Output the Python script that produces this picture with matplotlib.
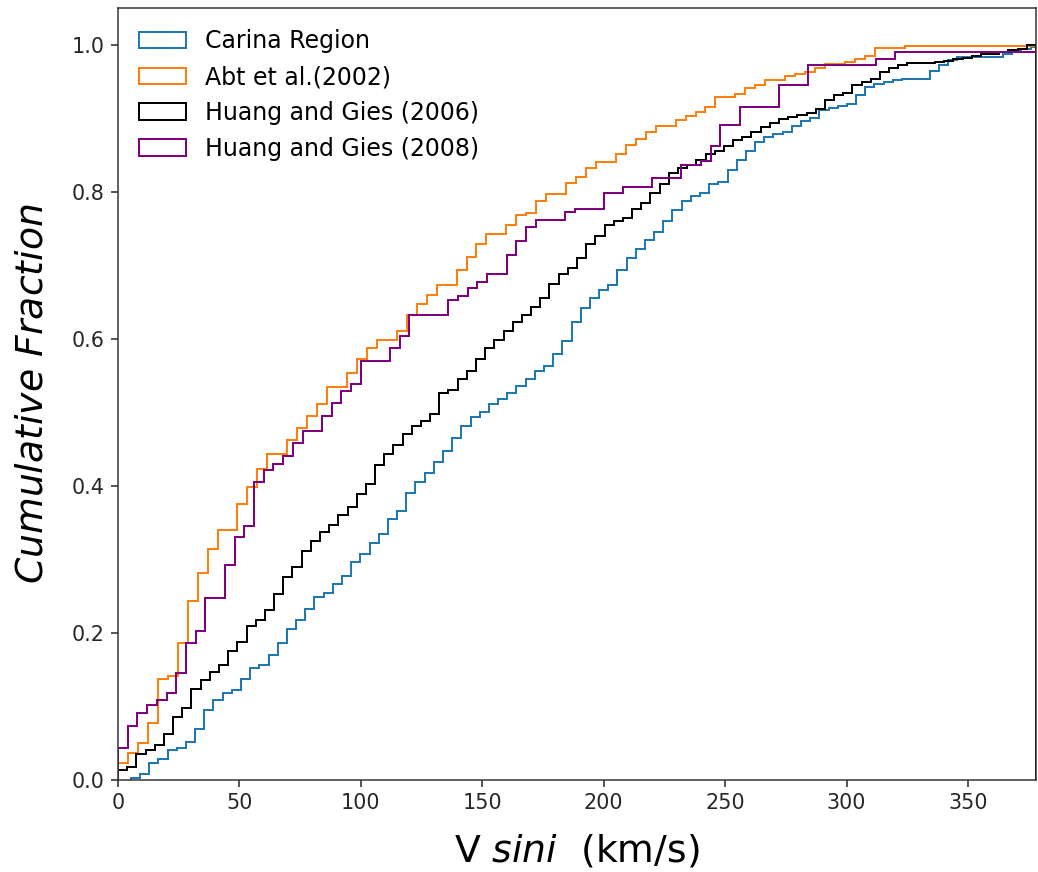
import numpy as np
import matplotlib
matplotlib.use("Agg")
import matplotlib.pyplot as plt

# ---------------- data (cumulative fraction per histogram bin) ----------------
labels = ["Carina Region", "Abt et al.(2002)", "Huang and Gies (2006)", "Huang and Gies (2008)"]
colors = ["#1f77b4", "#ff7f0e", "black", "purple"]

# bin start (km/s) and bin width (km/s) of each histogram (100 bins each)
bin_start = [5.3, 0.0, 0.0, 0.0]
bin_width = [3.78, 4.10, 3.78, 4.00]

carina = [
    0.003, 0.008, 0.023, 0.029, 0.041, 0.043, 0.052, 0.070, 0.095, 0.109,
    0.118, 0.122, 0.138, 0.152, 0.156, 0.170, 0.186, 0.205, 0.217, 0.233,
    0.249, 0.255, 0.267, 0.278, 0.296, 0.307, 0.322, 0.335, 0.355, 0.366,
    0.391, 0.405, 0.418, 0.432, 0.448, 0.465, 0.481, 0.494, 0.501, 0.511,
    0.518, 0.527, 0.536, 0.545, 0.556, 0.563, 0.579, 0.597, 0.623, 0.642,
    0.656, 0.666, 0.673, 0.693, 0.710, 0.722, 0.735, 0.746, 0.760, 0.775,
    0.787, 0.794, 0.798, 0.810, 0.814, 0.830, 0.843, 0.855, 0.868, 0.875,
    0.879, 0.882, 0.889, 0.896, 0.900, 0.911, 0.914, 0.917, 0.920, 0.932,
    0.943, 0.946, 0.950, 0.952, 0.954, 0.954, 0.954, 0.964, 0.972, 0.979,
    0.984, 0.984, 0.984, 0.984, 0.984, 0.988, 0.991, 0.994, 0.997, 1.000,
]

abt2002 = [
    0.023, 0.037, 0.050, 0.077, 0.138, 0.141, 0.186, 0.243, 0.282, 0.314,
    0.340, 0.340, 0.376, 0.399, 0.423, 0.443, 0.443, 0.463, 0.479, 0.495,
    0.511, 0.534, 0.534, 0.553, 0.572, 0.588, 0.598, 0.598, 0.611, 0.633,
    0.647, 0.660, 0.673, 0.673, 0.694, 0.711, 0.729, 0.743, 0.743, 0.755,
    0.769, 0.771, 0.787, 0.797, 0.797, 0.812, 0.820, 0.832, 0.841, 0.841,
    0.852, 0.863, 0.872, 0.881, 0.890, 0.890, 0.898, 0.903, 0.909, 0.916,
    0.929, 0.929, 0.933, 0.941, 0.945, 0.952, 0.952, 0.957, 0.960, 0.963,
    0.969, 0.974, 0.974, 0.977, 0.981, 0.985, 0.995, 0.995, 0.995, 0.998,
    0.998, 0.998, 0.998, 0.998, 0.998, 0.998, 0.998, 0.998, 0.998, 0.998,
    0.998, 0.998, 0.998, 0.998, 0.998, 0.998, 0.998, 0.998, 0.998, 1.000,
]

huang2006 = [
    0.013, 0.018, 0.036, 0.041, 0.048, 0.063, 0.086, 0.098, 0.124, 0.136,
    0.147, 0.156, 0.176, 0.188, 0.210, 0.217, 0.231, 0.253, 0.276, 0.290,
    0.312, 0.325, 0.337, 0.347, 0.360, 0.371, 0.389, 0.403, 0.428, 0.443,
    0.455, 0.470, 0.482, 0.488, 0.498, 0.527, 0.531, 0.545, 0.556, 0.572,
    0.588, 0.598, 0.611, 0.623, 0.633, 0.643, 0.656, 0.675, 0.688, 0.696,
    0.710, 0.729, 0.740, 0.755, 0.760, 0.765, 0.777, 0.785, 0.798, 0.810,
    0.825, 0.832, 0.837, 0.843, 0.852, 0.856, 0.862, 0.871, 0.875, 0.881,
    0.888, 0.893, 0.899, 0.902, 0.904, 0.907, 0.913, 0.925, 0.931, 0.934,
    0.945, 0.950, 0.954, 0.963, 0.969, 0.972, 0.975, 0.975, 0.975, 0.976,
    0.978, 0.981, 0.982, 0.985, 0.987, 0.987, 0.990, 0.993, 0.994, 1.000,
]

huang2008 = [
    0.043, 0.073, 0.091, 0.102, 0.109, 0.118, 0.146, 0.187, 0.203, 0.247,
    0.247, 0.292, 0.330, 0.346, 0.405, 0.421, 0.430, 0.440, 0.459, 0.475,
    0.475, 0.495, 0.513, 0.529, 0.539, 0.570, 0.570, 0.570, 0.588, 0.604,
    0.633, 0.633, 0.633, 0.633, 0.653, 0.658, 0.669, 0.678, 0.688, 0.688,
    0.714, 0.733, 0.752, 0.761, 0.761, 0.761, 0.773, 0.777, 0.777, 0.777,
    0.798, 0.798, 0.807, 0.807, 0.807, 0.819, 0.819, 0.819, 0.837, 0.837,
    0.842, 0.862, 0.891, 0.891, 0.916, 0.916, 0.916, 0.916, 0.945, 0.945,
    0.945, 0.972, 0.972, 0.972, 0.972, 0.972, 0.972, 0.972, 0.981, 0.981,
    0.990, 0.990, 0.990, 0.990, 0.990, 0.990, 0.990, 0.990, 0.990, 0.990,
    0.990, 0.990, 0.990, 0.990, 0.990, 1.000, 1.000, 1.000, 1.000, 1.000,
]

series = [carina, abt2002, huang2006, huang2008]

x_ticks = [0, 50, 100, 150, 200, 250, 300, 350]
y_ticks = [0.0, 0.2, 0.4, 0.6, 0.8, 1.0]

# ---------------- figure ----------------
DPI = 136
fig = plt.figure(figsize=(1038 / DPI, 872 / DPI), dpi=DPI)
ax = fig.add_axes([118 / 1038, (872 - 780) / 872, (1036 - 118) / 1038, (780 - 8) / 872])

for vals, start, width, lab, col in zip(series, bin_start, bin_width, labels, colors):
    vals = np.asarray(vals, dtype=float)
    edges = start + width * np.arange(len(vals) + 1)
    ax.hist(edges[:-1], bins=edges, weights=vals, histtype="step",
            color=col, label=lab, linewidth=1.05)

ax.set_xlim(0, 378)
ax.set_ylim(0, 1.05)
ax.set_xticks(x_ticks)
ax.set_yticks(y_ticks)
ax.tick_params(labelsize=11, colors="#222222", labelcolor="#262626")
for sp in ax.spines.values():
    sp.set_color("#333333")

ax.set_xlabel(r"V $sini$  (km/s)", fontsize=20, labelpad=10)
ax.set_ylabel(r"$Cumulative\ Fraction$", fontsize=20, labelpad=11)

ax.legend(loc="upper left", frameon=False, fontsize=12.5)

fig.savefig("out.png", dpi=DPI)
